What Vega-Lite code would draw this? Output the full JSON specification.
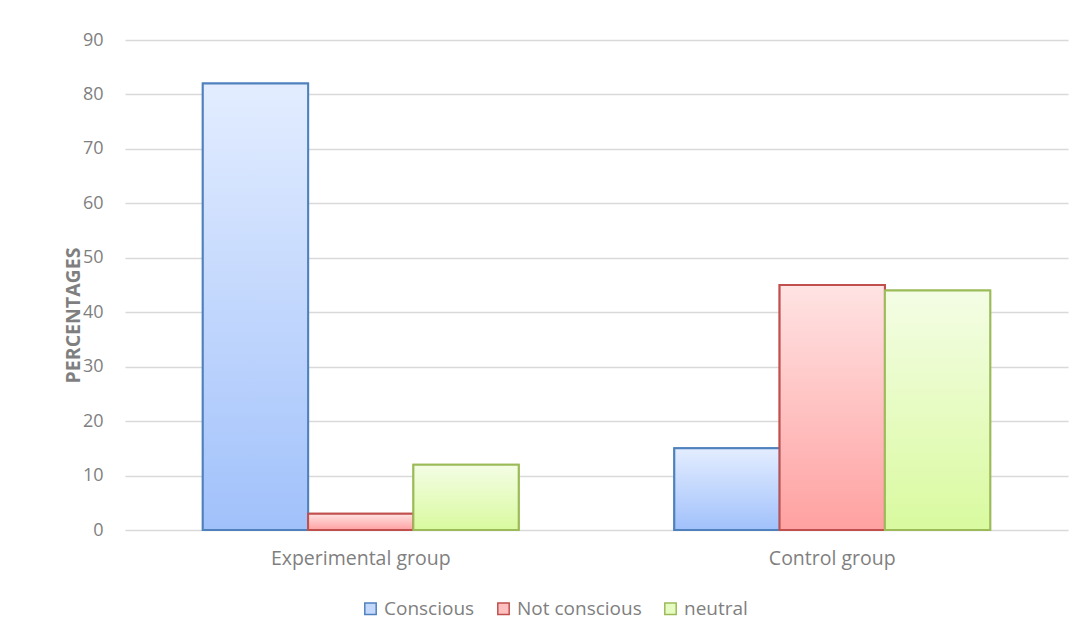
{
  "$schema": "https://vega.github.io/schema/vega-lite/v6.json",
  "width": 943,
  "height": 490,
  "autosize": {"type": "none"},
  "padding": {"left": 125, "top": 40, "right": 15, "bottom": 109},
  "background": "white",
  "config": {
    "view": {"stroke": null},
    "font": "Open Sans",
    "axis": {"labelFont": "Open Sans", "titleFont": "Open Sans"},
    "legend": {"labelFont": "Open Sans"}
  },
  "data": {
    "values": [
      {"group": "Experimental group", "series": "Conscious", "value": 82},
      {"group": "Experimental group", "series": "Not conscious", "value": 3},
      {"group": "Experimental group", "series": "neutral", "value": 12},
      {"group": "Control group", "series": "Conscious", "value": 15},
      {"group": "Control group", "series": "Not conscious", "value": 45},
      {"group": "Control group", "series": "neutral", "value": 44}
    ]
  },
  "encoding": {
    "x": {
      "field": "group",
      "type": "nominal",
      "sort": ["Experimental group", "Control group"],
      "scale": {"paddingInner": 0.33, "paddingOuter": 0.165},
      "axis": {
        "title": null,
        "labelAngle": 0,
        "labelFontSize": 19.5,
        "labelColor": "#7f7f7f",
        "labelPadding": 19,
        "ticks": false,
        "domain": false,
        "grid": false
      }
    },
    "xOffset": {
      "field": "series",
      "type": "nominal",
      "sort": ["Conscious", "Not conscious", "neutral"],
      "scale": {"paddingInner": 0, "paddingOuter": 0}
    },
    "y": {
      "field": "value",
      "type": "quantitative",
      "scale": {"domain": [0, 90], "nice": false},
      "axis": {
        "values": [0, 10, 20, 30, 40, 50, 60, 70, 80, 90],
        "title": "PERCENTAGES",
        "titleFontSize": 19.5,
        "titleFontWeight": "bold",
        "titleColor": "#7f7f7f",
        "titleX": -52,
        "titleY": 275,
        "titleAngle": -90,
        "titleAlign": "center",
        "titleBaseline": "middle",
        "labelFontSize": 18,
        "labelColor": "#7f7f7f",
        "labelPadding": 22,
        "ticks": false,
        "domain": false,
        "grid": true,
        "gridColor": "#d9d9d9",
        "gridWidth": 1.5
      }
    },
    "stroke": {
      "field": "series",
      "type": "nominal",
      "sort": ["Conscious", "Not conscious", "neutral"],
      "scale": {
        "domain": ["Conscious", "Not conscious", "neutral"],
        "range": ["#4f81bd", "#c0504d", "#9bbb59"]
      },
      "legend": {
        "orient": "none",
        "legendX": 236,
        "legendY": 559,
        "direction": "horizontal",
        "title": null,
        "symbolType": "square",
        "symbolSize": 130,
        "symbolStrokeWidth": 1.5,
        "labelFontSize": 19,
        "labelColor": "#7f7f7f",
        "columnPadding": 19,
        "labelOffset": 4
      }
    }
  },
  "layer": [
    {
      "mark": {"type": "bar", "strokeWidth": 2},
      "encoding": {
        "fill": {
          "field": "series",
          "type": "nominal",
          "sort": ["Conscious", "Not conscious", "neutral"],
          "scale": {
            "domain": ["Conscious", "Not conscious", "neutral"],
            "range": ["#c4d8fc", "#ffc0c0", "#e6fbc2"]
          },
          "legend": {
            "orient": "none",
            "legendX": 236,
            "legendY": 559,
            "direction": "horizontal",
            "title": null,
            "symbolType": "square",
            "symbolSize": 130,
            "symbolStrokeWidth": 1.5,
            "labelFontSize": 19,
            "labelColor": "#7f7f7f",
            "columnPadding": 19,
            "labelOffset": 4
          }
        }
      }
    },
    {
      "mark": {"type": "bar", "strokeWidth": 2},
      "encoding": {
        "fill": {
          "condition": [
            {
              "test": "datum.series === 'Conscious'",
              "value": {"gradient": "linear", "x1": 0, "y1": 0, "x2": 0, "y2": 1, "stops": [{"offset": 0, "color": "#e3edff"}, {"offset": 1, "color": "#a1c1fb"}]}
            },
            {
              "test": "datum.series === 'Not conscious'",
              "value": {"gradient": "linear", "x1": 0, "y1": 0, "x2": 0, "y2": 1, "stops": [{"offset": 0, "color": "#ffe3e3"}, {"offset": 1, "color": "#ffa1a1"}]}
            }
          ],
          "value": {"gradient": "linear", "x1": 0, "y1": 0, "x2": 0, "y2": 1, "stops": [{"offset": 0, "color": "#f4fde5"}, {"offset": 1, "color": "#d9fa9f"}]}
        }
      }
    }
  ]
}
